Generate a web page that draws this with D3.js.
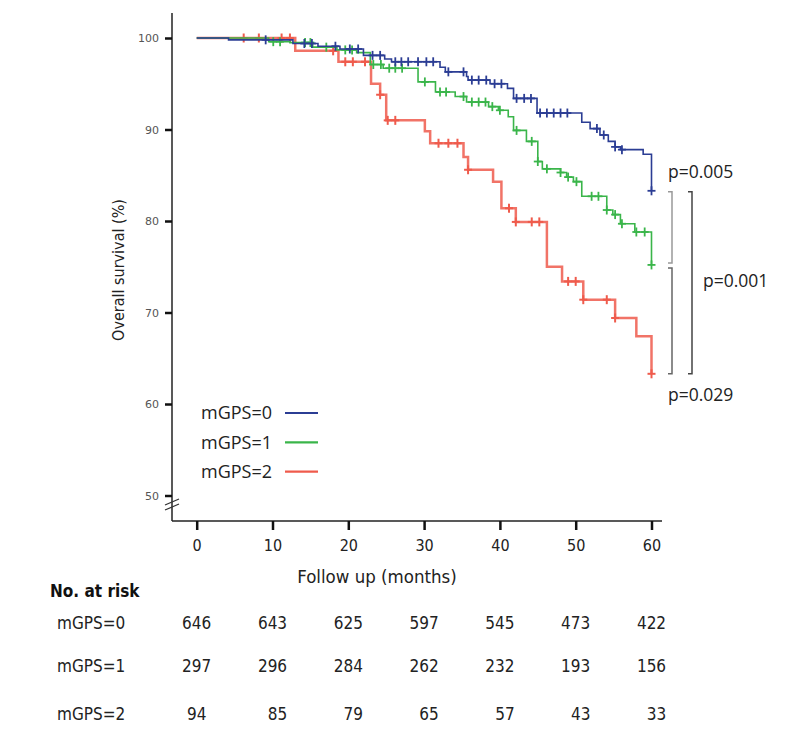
<!DOCTYPE html>
<html>
<head>
<meta charset="utf-8">
<script src="https://cdn.jsdelivr.net/npm/d3@7"></script>
<style>
  body { margin: 0; background: #fff; }
  svg text { font-family: "Liberation Sans Narrow", "DejaVu Sans Condensed", "Open Sans", sans-serif; }
</style>
</head>
<body>
<div id="chart"></div>
<script>
// Kaplan-Meier survival by mGPS group

const months = [0, 10, 20, 30, 40, 50, 60];
const yTicks = [50, 60, 70, 80, 90, 100];
const groups = ['mGPS=0', 'mGPS=1', 'mGPS=2'];
const colors = ['#2b3d94', '#3ab54a', '#ef5b4c'];

// step drops: time (months) and survival (%) after the drop
const blueTimes = [4.2, 12.7, 16.0, 18.9, 22.0, 24.8, 25.7, 32.1, 32.8, 35.6, 35.8, 38.7, 41.0, 41.8, 44.9, 50.8, 51.9, 53.2, 54.3, 55.2, 55.9, 58.9, 60];
const blueSurv = [99.8, 99.4, 99.1, 98.8, 98.1, 97.7, 97.4, 96.8, 96.3, 95.8, 95.4, 95.0, 94.5, 93.4, 91.8, 90.8, 90.1, 89.4, 88.7, 88.1, 87.8, 87.3, 83.3];
const blueCensor = [9.1, 14.2, 15.2, 18.3, 20.2, 21.3, 23.2, 24.2, 26.2, 27.0, 27.9, 29.2, 30.3, 31.2, 33.2, 35.2, 36.3, 37.2, 38.2, 39.3, 40.2, 42.2, 43.2, 44.1, 45.3, 46.2, 47.1, 48.0, 48.9, 52.8, 53.7, 55.2, 56.1, 60];

const greenTimes = [9.5, 12.3, 15.3, 18.5, 21.1, 22.9, 24.6, 29.2, 31.5, 34.1, 35.6, 38.5, 39.8, 41.1, 41.8, 43.5, 45.0, 45.6, 48.0, 48.8, 49.7, 50.8, 54.1, 54.9, 55.9, 57.8, 60];
const greenSurv = [99.6, 99.5, 99.0, 98.7, 98.4, 97.1, 96.7, 95.2, 94.1, 93.6, 93.0, 92.5, 92.1, 91.4, 89.9, 88.7, 86.5, 85.7, 85.3, 84.8, 84.3, 82.7, 81.2, 80.7, 79.7, 78.8, 75.2];
const greenCensor = [10.1, 11.0, 14.3, 15.0, 17.1, 19.6, 20.5, 23.3, 24.3, 25.4, 26.2, 27.1, 30.1, 32.1, 32.9, 35.2, 36.3, 37.2, 38.1, 39.0, 40.0, 42.2, 44.2, 45.0, 46.2, 48.0, 49.0, 50.1, 52.1, 53.0, 54.1, 55.2, 56.1, 58.0, 59.1, 60];

const redTimes = [13.0, 18.7, 23.0, 24.2, 25.0, 30.1, 30.8, 35.2, 35.8, 39.1, 40.2, 42.1, 46.2, 48.2, 51.0, 55.2, 58.0, 60];
const redSurv = [98.6, 97.4, 95.0, 93.8, 91.0, 89.8, 88.5, 87.0, 85.6, 84.3, 81.4, 79.9, 75.0, 73.4, 71.4, 69.4, 67.4, 63.3];
const redCensor = [6.2, 8.2, 11.2, 12.3, 18.0, 19.6, 20.6, 22.2, 24.2, 25.2, 26.2, 31.9, 33.2, 34.4, 35.8, 41.2, 42.1, 44.2, 45.2, 49.0, 50.0, 51.0, 54.1, 55.2, 60];

const atRisk0 = [646, 643, 625, 597, 545, 473, 422];
const atRisk1 = [297, 296, 284, 262, 232, 193, 156];
const atRisk2 = [94, 85, 79, 65, 57, 43, 33];

const pLabels = ['p=0.005', 'p=0.001', 'p=0.029'];

const W = 800, H = 730;
const svg = d3.select('#chart').append('svg')
    .attr('width', W).attr('height', H);

const x = d3.scaleLinear().domain([0, 60]).range([196.7, 651.5]);
const y = d3.scaleLinear().domain([50, 100]).range([495.5, 38]);

const AX = 172, AY = 521;

// axis lines
svg.append('line')
    .attr('x1', AX).attr('x2', AX).attr('y1', 13).attr('y2', AY)
    .attr('stroke', '#222').attr('stroke-width', 1.5);
svg.append('line')
    .attr('x1', AX).attr('x2', 662).attr('y1', AY).attr('y2', AY)
    .attr('stroke', '#222').attr('stroke-width', 1.5);

// y axis ticks
const yAxis = svg.append('g')
    .attr('transform', `translate(${AX},0)`)
    .call(d3.axisLeft(y).tickValues(yTicks).tickSize(7).tickPadding(6));
yAxis.select('.domain').remove();
yAxis.selectAll('.tick line').attr('stroke', '#111').attr('stroke-width', 2.5);
yAxis.selectAll('.tick text')
    .attr('font-size', 11).attr('fill', '#555')
    .style('font-family', '"DejaVu Sans", sans-serif');

// x axis ticks
const xAxis = svg.append('g')
    .attr('transform', `translate(0,${AY})`)
    .call(d3.axisBottom(x).tickValues(months).tickSize(9).tickPadding(10));
xAxis.select('.domain').remove();
xAxis.selectAll('.tick line').attr('stroke', '#111').attr('stroke-width', 2.5);
xAxis.selectAll('.tick text').attr('font-size', 16).attr('fill', '#222');

// axis break marks
[0, 5].forEach(d => {
    svg.append('line')
        .attr('x1', AX - 7).attr('y1', 505 + d)
        .attr('x2', AX + 7).attr('y2', 499 + d)
        .attr('stroke', '#333').attr('stroke-width', 1.3);
});

// axis titles
svg.append('text')
    .attr('transform', `translate(124,270) rotate(-90)`)
    .attr('text-anchor', 'middle')
    .attr('font-size', 16).attr('fill', '#222')
    .text('Overall survival (%)');
svg.append('text')
    .attr('x', 377).attr('y', 583)
    .attr('text-anchor', 'middle')
    .attr('font-size', 18.5).attr('fill', '#222')
    .text('Follow up (months)');

// survival curves
const series = [
    { times: blueTimes, surv: blueSurv, censor: blueCensor, width: 1.6 },
    { times: greenTimes, surv: greenSurv, censor: greenCensor, width: 1.6 },
    { times: redTimes, surv: redSurv, censor: redCensor, width: 2.5 }
];

const line = d3.line()
    .x(d => x(d[0]))
    .y(d => y(d[1]))
    .curve(d3.curveStepAfter);

function survAt(s, t) {
    let v = 100;
    s.times.forEach((tt, i) => { if (tt <= t) v = s.surv[i]; });
    return v;
}

// draw red first so blue/green sit on top
[2, 1, 0].forEach(i => {
    const s = series[i];
    const pts = [[0, 100]].concat(s.times.map((t, j) => [t, s.surv[j]]));
    const g = svg.append('g');
    g.append('path')
        .attr('d', line(pts))
        .attr('fill', 'none')
        .attr('stroke', colors[i])
        .attr('stroke-width', s.width)
        .attr('opacity', i === 2 ? 0.85 : 1);
    g.selectAll('.cens')
        .data(s.censor)
        .join('g')
        .attr('transform', t => `translate(${x(t)},${y(survAt(s, t))})`)
        .each(function () {
            const c = d3.select(this);
            c.append('line').attr('x1', 0).attr('x2', 0).attr('y1', -4.5).attr('y2', 4.5);
            c.append('line').attr('x1', -4).attr('x2', 4).attr('y1', 0).attr('y2', 0);
        })
        .attr('stroke', colors[i])
        .attr('stroke-width', i === 2 ? 2 : 1.8);
});

// legend
const legend = svg.append('g');
groups.forEach((name, i) => {
    const ly = 413 + i * 29.3;
    legend.append('text')
        .attr('x', 201).attr('y', ly)
        .attr('dy', '0.35em')
        .attr('font-size', 18).attr('fill', '#222')
        .style('font-family', '"Open Sans", sans-serif')
        .text(name);
    legend.append('line')
        .attr('x1', 285).attr('x2', 318)
        .attr('y1', ly).attr('y2', ly)
        .attr('stroke', colors[i]).attr('stroke-width', 2.2);
});

// p-value brackets
function bracket(bx, y1, y2, color) {
    svg.append('path')
        .attr('d', `M${bx - 4},${y1}H${bx}V${y2}H${bx - 4}`)
        .attr('fill', 'none')
        .attr('stroke', color).attr('stroke-width', 1.5);
}
bracket(672, y(83.3) + 1, y(75.2) - 2, '#999');
bracket(672, y(75.2) + 3, y(63.3), '#666');
bracket(692, y(83.3) + 1, y(63.3), '#444');

const pText = [
    { x: 668, y: 172 },
    { x: 703, y: 281 },
    { x: 668, y: 395 }
];
pLabels.forEach((p, i) => {
    svg.append('text')
        .attr('x', pText[i].x).attr('y', pText[i].y)
        .attr('dy', '0.35em')
        .attr('font-size', 17.5).attr('fill', '#222')
        .style('font-family', '"Open Sans", sans-serif')
        .text(p);
});

// number at risk table
svg.append('text')
    .attr('x', 50).attr('y', 591)
    .attr('dy', '0.35em')
    .attr('font-size', 17).attr('font-weight', 'bold').attr('fill', '#111')
    .text('No. at risk');

const riskRows = [atRisk0, atRisk1, atRisk2];
const rowY = [623, 666, 714];
riskRows.forEach((row, r) => {
    svg.append('text')
        .attr('x', 57).attr('y', rowY[r])
        .attr('dy', '0.35em')
        .attr('font-size', 17).attr('fill', '#222')
        .text(groups[r]);
    svg.selectAll(null)
        .data(row)
        .join('text')
        .attr('x', (d, j) => x(months[j]) + (r === 2 && j > 0 ? 5 : 0))
        .attr('y', rowY[r])
        .attr('dy', '0.35em')
        .attr('text-anchor', 'middle')
        .attr('font-size', 17).attr('fill', '#222')
        .text(d => d);
});
</script>
</body>
</html>
